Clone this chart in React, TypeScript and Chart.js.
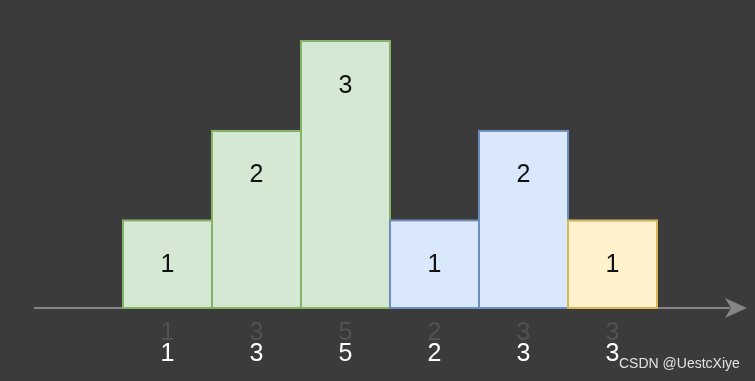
import { useEffect, useRef } from "react";
import { Chart, registerables } from "chart.js";

Chart.register(...registerables);

const categories = ["1", "3", "5", "2", "3", "3"];
const heights = [1, 2, 3, 1, 2, 1];
const fillColors = ["#d5e8d4", "#d5e8d4", "#d5e8d4", "#dae8fc", "#dae8fc", "#fff2cc"];
const strokeColors = ["#82b366", "#82b366", "#82b366", "#6c8ebf", "#6c8ebf", "#d6b656"];
const watermark = "CSDN @UestcXiye";

const FONT = "'Liberation Sans', Arial, Helvetica, sans-serif";
const BG = "#3b3b3b";

const backgroundPlugin = {
  id: "bgFill",
  beforeDraw(chart: any) {
    const { ctx, width, height } = chart;
    ctx.save();
    ctx.fillStyle = BG;
    ctx.fillRect(0, 0, width, height);
    ctx.restore();
  },
};

const axisArrowPlugin = {
  id: "axisArrow",
  beforeDatasetsDraw(chart: any) {
    const { ctx } = chart;
    const y = chart.scales.y.getPixelForValue(0) - 1;
    ctx.save();
    ctx.strokeStyle = "#858585";
    ctx.lineWidth = 2;
    ctx.beginPath();
    ctx.moveTo(34, y);
    ctx.lineTo(730, y);
    ctx.stroke();
    ctx.fillStyle = "#858585";
    ctx.beginPath();
    ctx.moveTo(747, y);
    ctx.lineTo(725, y - 10);
    ctx.lineTo(731, y);
    ctx.lineTo(725, y + 10);
    ctx.closePath();
    ctx.fill();
    ctx.restore();
  },
};

const barLabelPlugin = {
  id: "barLabels",
  afterDatasetsDraw(chart: any) {
    const { ctx } = chart;
    const meta = chart.getDatasetMeta(0);
    const yScale = chart.scales.y;
    ctx.save();
    ctx.fillStyle = "#111111";
    ctx.font = `25px ${FONT}`;
    ctx.textAlign = "center";
    ctx.textBaseline = "middle";
    meta.data.forEach((el: any, i: number) => {
      const v = heights[i];
      ctx.fillText(String(v), el.x, yScale.getPixelForValue(v - 0.5) + 1);
    });
    ctx.restore();
  },
};

const watermarkPlugin = {
  id: "watermark",
  afterDraw(chart: any) {
    const { ctx } = chart;
    ctx.save();
    ctx.fillStyle = "#e2e2e2";
    ctx.font = `14px ${FONT}`;
    ctx.textAlign = "left";
    ctx.textBaseline = "alphabetic";
    ctx.fillText(watermark, 619, 368);
    ctx.restore();
  },
};

export default function App() {
  const canvasRef = useRef<HTMLCanvasElement | null>(null);

  useEffect(() => {
    document.body.style.margin = "0";
    document.body.style.background = BG;
    const canvas = canvasRef.current;
    if (!canvas) return;
    const chart = new Chart(canvas, {
      type: "bar",
      data: {
        labels: categories,
        datasets: [
          {
            data: heights,
            backgroundColor: fillColors,
            borderColor: strokeColors,
            borderWidth: 2,
            borderSkipped: false,
            categoryPercentage: 1,
            barPercentage: 91 / 89,
            clip: false as any,
          },
        ],
      },
      options: {
        animation: false,
        responsive: false,
        maintainAspectRatio: false,
        devicePixelRatio: 1,
        layout: { padding: { left: 123, right: 98, top: 40, bottom: 0 } },
        plugins: {
          legend: { display: false },
          tooltip: { enabled: false },
          title: { display: false },
        },
        scales: {
          y: { display: false, min: 0, max: 3 },
          x: {
            offset: true,
            weight: 0,
            grid: { display: false, drawTicks: false },
            border: { display: false },
            ticks: {
              color: "#525252",
              font: { family: FONT, size: 25, lineHeight: 1 },
              padding: 11.5,
              maxRotation: 0,
              autoSkip: false,
            },
            afterFit: (s: any) => {
              s.height = 33;
            },
          },
          x2: {
            type: "category",
            labels: categories,
            position: "bottom",
            offset: true,
            weight: 1,
            grid: { display: false, drawTicks: false },
            border: { display: false },
            ticks: {
              color: "#ffffff",
              font: { family: FONT, size: 25, lineHeight: 1 },
              padding: 0,
              maxRotation: 0,
              autoSkip: false,
            },
            afterFit: (s: any) => {
              s.height = 39;
            },
          },
        },
      },
      plugins: [backgroundPlugin, axisArrowPlugin, barLabelPlugin, watermarkPlugin],
    });
    return () => chart.destroy();
  }, []);

  return (
    <div style={{ position: "fixed", left: 0, top: 0, width: 755, height: 381, background: BG }}>
      <canvas ref={canvasRef} width={755} height={381} style={{ display: "block", width: 755, height: 381 }} />
    </div>
  );
}
